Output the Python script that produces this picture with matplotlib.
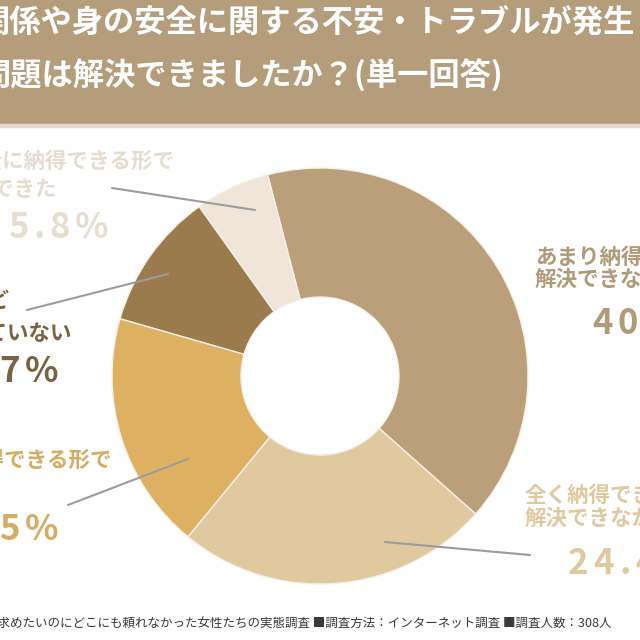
import matplotlib
matplotlib.use("Agg")
import matplotlib.pyplot as plt

plt.rcParams['font.family'] = ['Noto Sans CJK JP', 'DejaVu Sans']

# data
values = [40.6, 24.4, 18.5, 10.7, 5.8]
pct_labels = ["40.6%", "24.4%", "18.5%", "10.7%", "5.8%"]
slice_colors = ["#BA9F7A", "#E0C89F", "#DDB062", "#9B7B4E", "#EFE5D9"]
text_colors = ["#B09A78", "#E0C9A0", "#D6AB62", "#7A6242", "#E6DDD1"]
label_lines = [
    ["あまり納得できる形で", "解決できなかった"],
    ["全く納得できる形で", "解決できなかった"],
    ["ある程度納得できる形で"],
    ["まだほとんど", "解決していない"],
    ["完全に納得できる形で", "解決できた"],
]
title_lines = ["関係や身の安全に関する不安・トラブルが発生した際、",
               "問題は解決できましたか？(単一回答)"]
footer = ("助けを求めたいのにどこにも頼れなかった女性たちの実態調査 "
          "■調査方法：インターネット調査 ■調査人数：308人")

fig = plt.figure(figsize=(6.4, 6.4), dpi=100)
ax = fig.add_axes([0, 0, 1, 1])
H = 640


def Y(y):
    return H - y


# donut
ax.pie(values, colors=slice_colors, startangle=104.6, counterclock=False,
       radius=208, center=(320, Y(376)),
       wedgeprops=dict(width=129, edgecolor="#F7F0E6", linewidth=1.0))
ax.set_xlim(0, 640)
ax.set_ylim(0, 640)
ax.set_aspect("equal")
ax.axis("off")

# title band
ax.add_patch(plt.Rectangle((0, Y(124)), 640, 124, color="#B59C7A", zorder=0))
ax.add_patch(plt.Rectangle((0, Y(127)), 640, 3, color="#E2DACF", zorder=0))
ax.text(-21, Y(23), title_lines[0], fontsize=22.5, fontweight="bold",
        color="white", va="center", ha="left")
ax.text(-21, Y(76), title_lines[1], fontsize=22.5, fontweight="bold",
        color="white", va="center", ha="left")

renderer = fig.canvas.get_renderer()


def tracked(x, y, s, size, color, ha="left", track=5):
    parts = []
    for ch in s:
        t = ax.text(0, y, ch, fontsize=size, color=color, fontweight="bold",
                    va="center", ha="left")
        parts.append((t, t.get_window_extent(renderer).width))
    total = sum(w for _, w in parts) + track * (len(s) - 1)
    cx = x - total if ha == "right" else x
    for t, w in parts:
        t.set_x(cx)
        cx += w + track


# labels: (x, y of each line, ha, pct x, pct y, pct ha)
label_pos = [
    (535, [257, 279], "left", 592, 323, "left"),
    (525, [495, 518], "left", 568, 564, "left"),
    (112, [460], "right", 58, 530, "right"),
    (72, [302, 333], "right", 58, 372, "right"),
    (174, [161, 189], "right", 8, 228, "left"),
]
for i, (x, ys, ha, px, py, pha) in enumerate(label_pos):
    lines = label_lines[i]
    if i == 3:
        ax.text(9, Y(ys[0]), lines[0], fontsize=15.5, fontweight="bold",
                color=text_colors[i], va="center", ha="right")
        ax.text(x, Y(ys[1]), lines[1], fontsize=15.5, fontweight="bold",
                color=text_colors[i], va="center", ha="right")
    elif i == 4:
        ax.text(x, Y(ys[0]), lines[0], fontsize=15.5, fontweight="bold",
                color=text_colors[i], va="center", ha="right")
        ax.text(57, Y(ys[1]), lines[1], fontsize=15.5, fontweight="bold",
                color=text_colors[i], va="center", ha="right")
    else:
        for ln, yy in zip(lines, ys):
            ax.text(x, Y(yy), ln, fontsize=15.5, fontweight="bold",
                    color=text_colors[i], va="center", ha=ha)
    tracked(px, Y(py), pct_labels[i], 25, text_colors[i], ha=pha, track=5)

# leader lines
leaders = [
    ((385, 542), (530, 555)),
    ((68, 505), (188, 459)),
    ((27, 310), (168, 274)),
    ((112, 188), (255, 210)),
]
for (x0, y0), (x1, y1) in leaders:
    ax.plot([x0, x1], [Y(y0), Y(y1)], color="#9C9C9C", lw=1.5,
            solid_capstyle="round")

ax.text(611, Y(624), footer, fontsize=9, color="#3A3A3A",
        va="center", ha="right")

fig.savefig("out.png", dpi=100)
